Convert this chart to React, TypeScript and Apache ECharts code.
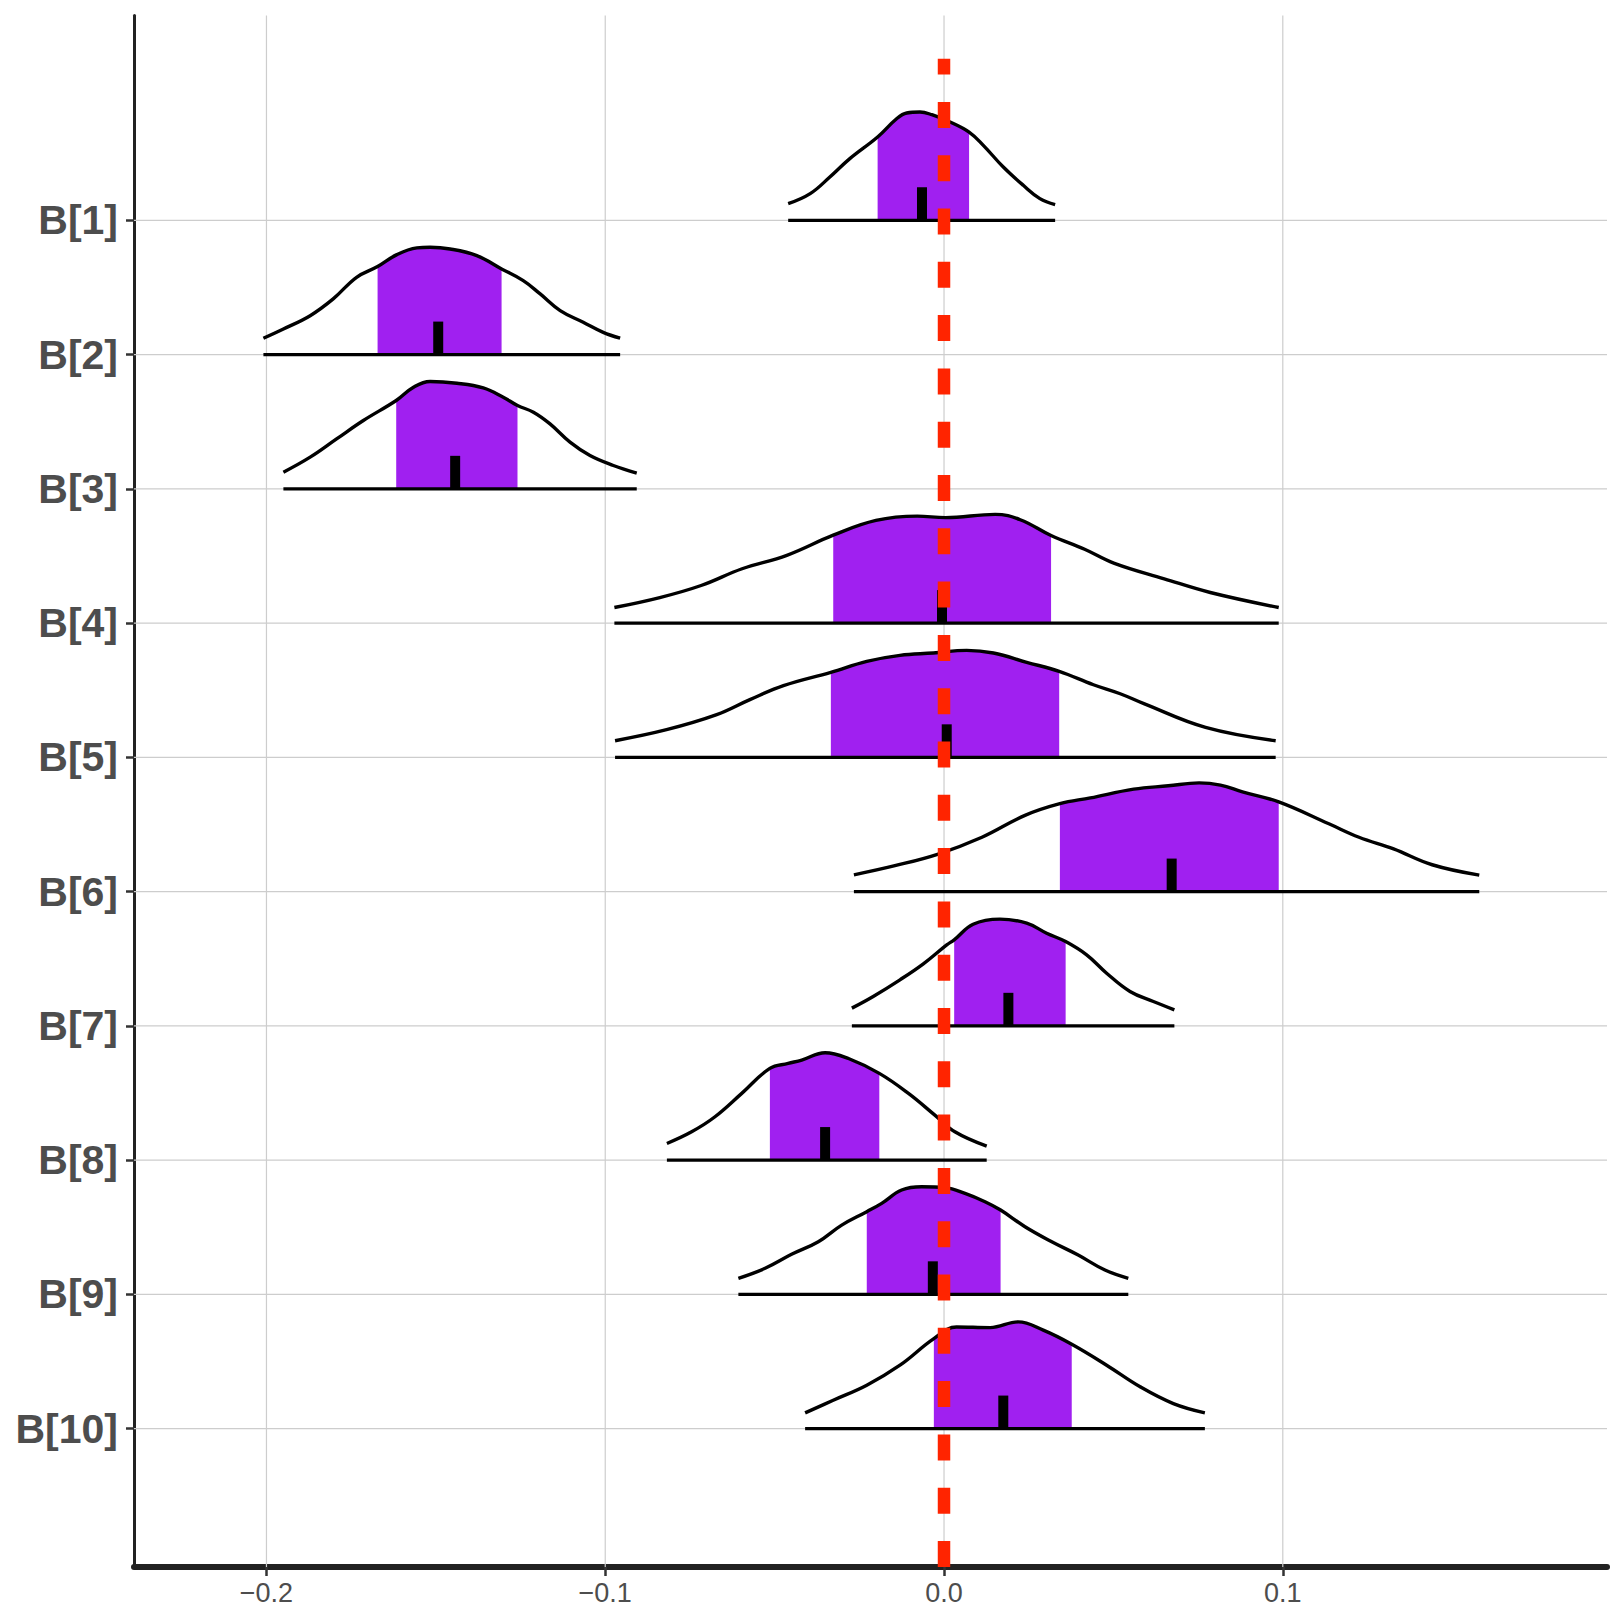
import React, { useEffect, useRef } from "react";
import * as echarts from "echarts";

// ---------- data ----------
const labels = ["B[1]", "B[2]", "B[3]", "B[4]", "B[5]", "B[6]", "B[7]", "B[8]", "B[9]", "B[10]"];
const xTicks = [-0.2, -0.1, 0.0, 0.1];

// inner (filled) interval and median of each parameter
const intervalLow = [-0.0196, -0.1672, -0.1617, -0.0327, -0.0334, 0.0342, 0.003, -0.0514, -0.0228, -0.003];
const intervalHigh = [0.0074, -0.1306, -0.1259, 0.0316, 0.034, 0.0988, 0.0359, -0.0191, 0.0167, 0.0377];
const medians = [-0.0065, -0.1493, -0.1443, -0.0006, 0.0008, 0.0672, 0.019, -0.0351, -0.0033, 0.0175];

// scaled densities: [value, height in row units]
const densB1 = [[-0.046, 0.124], [-0.0395, 0.199], [-0.0337, 0.323], [-0.0278, 0.46], [-0.0196, 0.621], [-0.014, 0.757], [-0.011, 0.8], [-0.0071, 0.807], [-0.0036, 0.787], [0.0018, 0.733], [0.0074, 0.658], [0.0116, 0.559], [0.0175, 0.397], [0.0234, 0.261], [0.0283, 0.162], [0.0328, 0.117]];
const densB2 = [[-0.2009, 0.122], [-0.195, 0.191], [-0.1871, 0.29], [-0.1803, 0.415], [-0.1734, 0.576], [-0.1672, 0.656], [-0.1615, 0.745], [-0.1556, 0.795], [-0.1517, 0.8], [-0.1458, 0.787], [-0.1379, 0.737], [-0.1306, 0.638], [-0.1242, 0.551], [-0.1192, 0.452], [-0.1133, 0.328], [-0.1065, 0.241], [-0.1006, 0.166], [-0.0956, 0.122]];
const densB3 = [[-0.195, 0.124], [-0.1871, 0.236], [-0.1793, 0.372], [-0.1714, 0.509], [-0.1617, 0.658], [-0.1566, 0.757], [-0.1517, 0.8], [-0.1438, 0.787], [-0.136, 0.752], [-0.1301, 0.683], [-0.1259, 0.621], [-0.1212, 0.571], [-0.1163, 0.484], [-0.1104, 0.348], [-0.1045, 0.248], [-0.0976, 0.174], [-0.0907, 0.117]];
const densB4 = [[-0.0973, 0.116], [-0.0839, 0.19], [-0.0717, 0.28], [-0.0596, 0.405], [-0.0464, 0.505], [-0.0327, 0.655], [-0.0201, 0.765], [-0.0079, 0.797], [0.0004, 0.786], [0.0151, 0.81], [0.0225, 0.77], [0.0316, 0.652], [0.0415, 0.55], [0.0503, 0.445], [0.065, 0.33], [0.0786, 0.228], [0.0988, 0.116]];
const densB5 = [[-0.0971, 0.124], [-0.0819, 0.206], [-0.0671, 0.318], [-0.0573, 0.43], [-0.0474, 0.534], [-0.0334, 0.633], [-0.0228, 0.715], [-0.013, 0.76], [-0.0032, 0.777], [0.0067, 0.797], [0.0146, 0.777], [0.0244, 0.708], [0.034, 0.641], [0.0441, 0.541], [0.052, 0.474], [0.059, 0.4], [0.0772, 0.223], [0.0979, 0.124]];
const densB6 = [[-0.0266, 0.125], [-0.0145, 0.193], [-0.0017, 0.28], [0.0112, 0.405], [0.0239, 0.568], [0.0342, 0.655], [0.0432, 0.698], [0.056, 0.763], [0.0662, 0.788], [0.0753, 0.81], [0.0816, 0.793], [0.0881, 0.743], [0.0988, 0.668], [0.1136, 0.505], [0.1225, 0.405], [0.1327, 0.318], [0.1441, 0.2], [0.158, 0.123]];
const densB7 = [[-0.0272, 0.132], [-0.0209, 0.219], [-0.013, 0.343], [-0.0061, 0.462], [0.0008, 0.603], [0.003, 0.641], [0.0086, 0.757], [0.0165, 0.795], [0.0244, 0.765], [0.0303, 0.69], [0.0359, 0.628], [0.0421, 0.529], [0.048, 0.392], [0.0549, 0.256], [0.0618, 0.181], [0.068, 0.119]];
const densB8 = [[-0.0818, 0.124], [-0.0745, 0.211], [-0.0676, 0.323], [-0.0597, 0.497], [-0.0514, 0.683], [-0.046, 0.72], [-0.042, 0.745], [-0.0351, 0.8], [-0.0282, 0.757], [-0.0191, 0.646], [-0.0105, 0.497], [-0.0027, 0.335], [0.0032, 0.211], [0.0126, 0.104]];
const densB9 = [[-0.0607, 0.119], [-0.0528, 0.194], [-0.045, 0.298], [-0.0371, 0.392], [-0.0302, 0.516], [-0.0228, 0.616], [-0.0184, 0.678], [-0.0125, 0.777], [-0.0066, 0.802], [0.0003, 0.795], [0.0062, 0.752], [0.0121, 0.69], [0.0167, 0.628], [0.0239, 0.504], [0.0318, 0.392], [0.0396, 0.293], [0.0475, 0.181], [0.0544, 0.119]];
const densB10 = [[-0.041, 0.117], [-0.0327, 0.211], [-0.0228, 0.323], [-0.013, 0.472], [-0.003, 0.67], [0.0037, 0.757], [0.0136, 0.752], [0.0219, 0.795], [0.0293, 0.733], [0.0377, 0.628], [0.048, 0.472], [0.0579, 0.311], [0.0677, 0.186], [0.077, 0.117]];

const densities = [densB1, densB2, densB3, densB4, densB5, densB6, densB7, densB8, densB9, densB10];
const refLineX = 0;

// ---------- layout / style ----------
const X_MIN = -0.2391;
const X_MAX = 0.1957;
const Y_MIN = -0.031;
const Y_MAX = 11.526;
const REF_TOP = 11.204; // top end of the dashed reference line
const MEDIAN_H = 0.246; // row units (fixed bar height)
const SM = 0.4;
const PURPLE = "#A020F0";
const RED = "#FF2400";
const FONT = "Liberation Sans, Arial, Helvetica, sans-serif";

function interp(d: number[][], x: number): number {
  for (let i = 0; i < d.length - 1; i++) {
    const [x0, y0] = d[i];
    const [x1, y1] = d[i + 1];
    if (x >= x0 && x <= x1) {
      const t = x1 === x0 ? 0 : (x - x0) / (x1 - x0);
      return y0 + t * (y1 - y0);
    }
  }
  return d[d.length - 1][1];
}

function buildOption() {
  const series: any[] = [];
  const rowY = labels.map((_, i) => labels.length - i);

  // grid lines
  rowY.forEach((y) => {
    series.push({
      type: "line", silent: true, symbol: "none", z: 1,
      data: [[X_MIN, y], [X_MAX, y]],
      lineStyle: { color: "#CDCDCD", width: 1.2 },
    });
  });
  xTicks.forEach((x) => {
    series.push({
      type: "line", silent: true, symbol: "none", z: 1,
      data: [[x, Y_MIN], [x, Y_MAX]],
      lineStyle: { color: "#CDCDCD", width: 1.2 },
    });
  });

  densities.forEach((d, i) => {
    const base = rowY[i];
    const lo = intervalLow[i];
    const hi = intervalHigh[i];
    const fillPts: number[][] = [[lo, interp(d, lo)]];
    d.forEach((p) => {
      if (p[0] > lo + 1e-6 && p[0] < hi - 1e-6) fillPts.push(p);
    });
    fillPts.push([hi, interp(d, hi)]);

    series.push({
      type: "line", silent: true, symbol: "none", z: 2,
      smooth: SM,
      data: fillPts.map(([x, h]) => [x, base + h]),
      lineStyle: { width: 0, color: PURPLE },
      areaStyle: { color: PURPLE, opacity: 1, origin: base },
    });
    series.push({
      type: "line", silent: true, symbol: "none", z: 3,
      smooth: SM,
      data: d.map(([x, h]) => [x, base + h]),
      lineStyle: { color: "#000", width: 3.4 },
    });
    series.push({
      type: "line", silent: true, symbol: "none", z: 3,
      data: [[d[0][0], base], [d[d.length - 1][0], base]],
      lineStyle: { color: "#000", width: 3.2 },
    });
    series.push({
      type: "line", silent: true, symbol: "none", z: 4,
      data: [[medians[i], base], [medians[i], base + MEDIAN_H]],
      lineStyle: { color: "#000", width: 10, cap: "butt" },
    });
  });

  series.push({
    type: "line", silent: true, symbol: "none", z: 10,
    data: [[refLineX, Y_MIN], [refLineX, REF_TOP]],
    lineStyle: { color: RED, width: 12.5, type: [26, 27.3], cap: "butt" },
  });

  return {
    animation: false,
    backgroundColor: "#ffffff",
    grid: { left: 134, right: 8, top: 15.5, bottom: 48, containLabel: false },
    xAxis: {
      type: "value",
      min: X_MIN,
      max: X_MAX,
      axisLine: { show: true, onZero: false, lineStyle: { color: "#222", width: 6 } },
      axisTick: { show: true, customValues: xTicks, length: 9, lineStyle: { color: "#333", width: 2.5 } },
      axisLabel: {
        customValues: xTicks,
        formatter: (v: number) => (v < -1e-9 ? "\u2212" : "") + Math.abs(v).toFixed(1),
        fontSize: 27,
        color: "#4D4D4D",
        fontFamily: FONT,
        margin: 12,
      },
      splitLine: { show: false },
    },
    yAxis: {
      type: "value",
      min: Y_MIN,
      max: Y_MAX,
      axisLine: { show: true, onZero: false, lineStyle: { color: "#222", width: 3 } },
      axisTick: { show: true, customValues: rowY, length: 8, lineStyle: { color: "#333", width: 2.5 } },
      axisLabel: {
        customValues: rowY,
        formatter: (v: number) => labels[labels.length - Math.round(v)] ?? "",
        fontSize: 41,
        fontWeight: "bold",
        color: "#4D4D4D",
        fontFamily: FONT,
        margin: 16,
      },
      splitLine: { show: false },
    },
    series,
  };
}

export default function App() {
  const ref = useRef<HTMLDivElement>(null);
  useEffect(() => {
    if (!ref.current) return;
    const chart = echarts.init(ref.current, null, { renderer: "svg" });
    chart.setOption(buildOption() as any);
    return () => chart.dispose();
  }, []);
  return (
    <div
      ref={ref}
      style={{ position: "absolute", left: 0, top: 0, width: 1615, height: 1615, background: "#fff" }}
    />
  );
}
